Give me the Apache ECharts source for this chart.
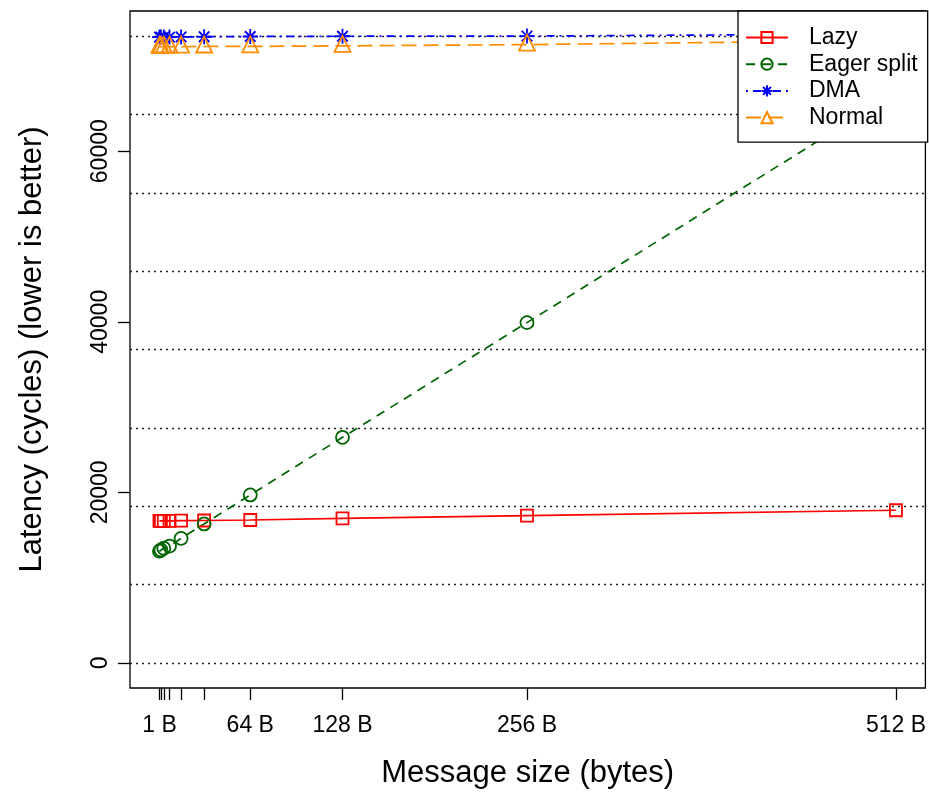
<!DOCTYPE html>
<html><head><meta charset="utf-8">
<script src="https://cdn.jsdelivr.net/npm/echarts@6/dist/echarts.min.js"></script>
<style>html,body{margin:0;padding:0;background:#fff}#c{width:929px;height:794px}</style>
</head><body><div id="c"></div>
<script>
const sizes = [1, 2, 4, 8, 16, 32, 64, 128, 256, 512];
const xTickValues = [1, 2, 4, 8, 16, 32, 64, 128, 256, 512];
const xLabelValues = [1, 64, 128, 256, 512];
const yLabelValues = [0, 20000, 40000, 60000];
const gridValues = [0, 9187.5, 18375, 27562.5, 36750, 45937.5, 55125, 64312.5, 73500];
const lazy = [16650, 16650, 16650, 16660, 16680, 16700, 16760, 16950, 17280, 17900];
const eager = [13100, 13250, 13450, 13700, 14600, 16300, 19700, 26450, 39900, 66900];
const dma = [73380, 73380, 73380, 73390, 73400, 73420, 73450, 73480, 73500, 73750];
const normal = [72250, 72250, 72250, 72260, 72270, 72280, 72290, 72350, 72500, 73000];
const names = ['Lazy', 'Eager split', 'DMA', 'Normal'];

const FONT = 'Liberation Sans, Arial, Helvetica, sans-serif';
const pairs = arr => sizes.map((s, i) => [s, arr[i]]);
const star = 'path://M10,0L10,20M0,10L20,10M3,3L17,17M3,17L17,3';

function mk(name, arr, color, symbol, size, dash, offset) {
  return {
    name, type: 'line', data: pairs(arr), yAxisIndex: 0,
    symbol, symbolSize: size, symbolOffset: offset || [0, 0],
    showSymbol: true, silent: true,
    itemStyle: { color: 'rgba(0,0,0,0)', borderColor: color, borderWidth: 1.8 },
    lineStyle: { color, width: 1.7, type: dash },
    emphasis: { disabled: true }
  };
}

const chart = echarts.init(document.getElementById('c'), null, { renderer: 'canvas' });
chart.setOption({
  animation: false,
  backgroundColor: '#fff',
  grid: { left: 130, right: 2, top: 11, bottom: 104, show: true, borderColor: '#000', borderWidth: 1.3, backgroundColor: 'transparent' },
  xAxis: {
    type: 'value', min: -19.44, max: 532.44, position: 'bottom',
    name: 'Message size (bytes)', nameLocation: 'middle', nameGap: 70,
    nameTextStyle: { fontSize: 31, fontFamily: FONT, color: '#000' },
    axisLine: { show: false, onZero: false }, splitLine: { show: false },
    axisTick: { show: true, inside: false, length: 12, customValues: xTickValues, lineStyle: { color: '#000', width: 1.3 } },
    axisLabel: { customValues: xLabelValues, formatter: v => v + ' B', margin: 26, fontSize: 23, fontFamily: FONT, color: '#000' }
  },
  yAxis: [{
    type: 'value', min: -2940, max: 76440, position: 'left',
    name: 'Latency (cycles) (lower is better)', nameLocation: 'middle', nameGap: 82, nameRotate: 90,
    nameTextStyle: { fontSize: 31, fontFamily: FONT, color: '#000' },
    axisLine: { show: false, onZero: false }, splitLine: { show: false },
    axisTick: { show: true, inside: false, length: 12, customValues: yLabelValues, lineStyle: { color: '#000', width: 1.3 } },
    axisLabel: { customValues: yLabelValues, rotate: 90, formatter: v => String(v), margin: 18, fontSize: 23, fontFamily: FONT, color: '#000' }
  }, {
    type: 'value', min: -2940, max: 76440, position: 'left',
    axisLine: { show: false, onZero: false }, axisLabel: { show: false },
    axisTick: { show: false, customValues: gridValues },
    splitLine: { show: true, lineStyle: { color: '#222', type: [2, 4], width: 1.4 } }
  }],
  legend: {
    orient: 'vertical', left: 738, top: 11, selectedMode: false,
    itemWidth: 42, itemHeight: 14, itemGap: 3.7,
    padding: [15, 10, 13, 7],
    backgroundColor: '#fff', borderColor: '#000', borderWidth: 1.3,
    textStyle: { fontFamily: FONT, fontSize: 23, color: '#000', padding: [0, 0, 0, 16], lineHeight: 23 },
    data: names
  },
  series: [
    mk(names[0], lazy, '#ff0000', 'rect', 12, 'solid'),
    mk(names[1], eager, '#006400', 'circle', 13, [9, 7]),
    mk(names[2], dma, '#0000ff', star, 15, [2, 5, 8, 5]),
    mk(names[3], normal, '#ff8c00', 'triangle', 16, [15, 7], [0, -2])
  ]
});
</script></body></html>
